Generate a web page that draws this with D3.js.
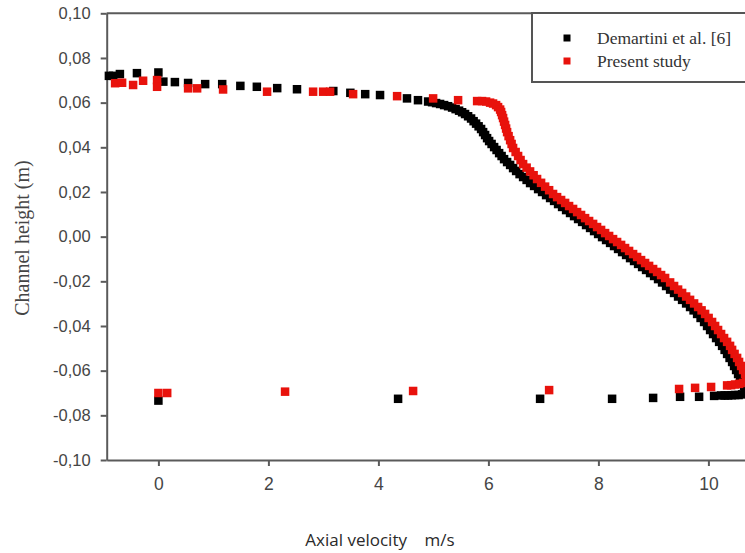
<!DOCTYPE html>
<html>
<head>
<meta charset="utf-8">
<script src="https://cdn.jsdelivr.net/npm/d3@7"></script>
<style>
  html, body { margin: 0; padding: 0; background: #fff; overflow: hidden; }
  svg { display: block; }
</style>
</head>
<body>
<svg id="chart" width="745" height="553"></svg>
<script>
// [axial velocity (m/s), channel height (m)] for each measured point
const demartini = [
  [-0.90, 0.0720], [-0.82, 0.0720], [-0.70, 0.0728], [-0.39, 0.0732], [0.00, 0.0735], [0.09, 0.0694],
  [0.30, 0.0692], [0.54, 0.0688], [0.85, 0.0683], [1.16, 0.0683], [1.49, 0.0675], [1.79, 0.0671],
  [2.16, 0.0665], [2.52, 0.0660], [3.18, 0.0652], [3.49, 0.0644], [3.76, 0.0638], [4.03, 0.0634],
  [4.52, 0.0619], [4.72, 0.0611],
  [4.904, 0.0605], [4.976, 0.0602], [5.049, 0.0598], [5.122, 0.0594], [5.195, 0.0589], [5.267, 0.0584],
  [5.340, 0.0578], [5.404, 0.0571], [5.467, 0.0564], [5.522, 0.0557], [5.576, 0.0549], [5.631, 0.0539],
  [5.685, 0.0529], [5.731, 0.0517], [5.776, 0.0506], [5.822, 0.0494], [5.867, 0.0482], [5.904, 0.0468],
  [5.940, 0.0455], [5.976, 0.0441], [6.013, 0.0428], [6.058, 0.0415], [6.104, 0.0401], [6.149, 0.0388],
  [6.195, 0.0374], [6.240, 0.0361], [6.285, 0.0347], [6.340, 0.0334], [6.395, 0.0321], [6.449, 0.0307],
  [6.504, 0.0294], [6.567, 0.0280], [6.631, 0.0267], [6.695, 0.0254], [6.758, 0.0240], [6.831, 0.0227],
  [6.904, 0.0213], [6.976, 0.0200], [7.049, 0.0186], [7.122, 0.0173], [7.195, 0.0160], [7.267, 0.0146],
  [7.340, 0.0133], [7.413, 0.0119], [7.485, 0.0106], [7.558, 0.0092], [7.631, 0.0079], [7.704, 0.0066],
  [7.776, 0.0052], [7.849, 0.0039], [7.922, 0.0025], [7.995, 0.0012], [8.067, -0.0002], [8.140, -0.0015],
  [8.213, -0.0028], [8.285, -0.0042], [8.358, -0.0055], [8.431, -0.0069], [8.504, -0.0082], [8.576, -0.0096],
  [8.649, -0.0109], [8.722, -0.0122], [8.795, -0.0136], [8.867, -0.0149], [8.940, -0.0163], [9.013, -0.0176],
  [9.085, -0.0190], [9.158, -0.0205], [9.231, -0.0221], [9.304, -0.0237], [9.376, -0.0252], [9.449, -0.0268],
  [9.522, -0.0283], [9.595, -0.0299], [9.667, -0.0315], [9.731, -0.0330], [9.795, -0.0346], [9.858, -0.0364],
  [9.922, -0.0382], [9.976, -0.0400], [10.031, -0.0418], [10.085, -0.0436], [10.140, -0.0454], [10.195, -0.0471],
  [10.249, -0.0489], [10.295, -0.0507], [10.340, -0.0525], [10.385, -0.0543], [10.431, -0.0561], [10.467, -0.0579],
  [10.504, -0.0597], [10.540, -0.0615], [10.576, -0.0632], [10.613, -0.0650], [10.649, -0.0668], [10.685, -0.0682],
  [10.722, -0.0695], [10.667, -0.0704], [10.613, -0.0706], [10.549, -0.0709], [10.485, -0.0709], [10.422, -0.0710],
  [10.358, -0.0711], [10.295, -0.0711], [10.231, -0.0711],
  [10.104, -0.0713], [9.831, -0.0717], [9.485, -0.0717], [8.995, -0.0722], [8.249, -0.0726], [6.940, -0.0726],
  [4.358, -0.0726], [0.00, -0.0734]
];

const present = [
  [-0.787, 0.0687], [-0.660, 0.0689], [-0.460, 0.0679], [-0.278, 0.0698], [-0.024, 0.0701], [-0.024, 0.0671],
  [0.540, 0.0664], [0.704, 0.0664], [1.176, 0.0659], [1.976, 0.0649], [2.813, 0.0649], [2.995, 0.0649],
  [3.122, 0.0649], [3.540, 0.0638], [4.340, 0.0629], [4.995, 0.0619], [5.449, 0.0611],
  [5.795, 0.0607], [5.885, 0.0607], [5.958, 0.0605], [6.031, 0.0600], [6.085, 0.0596], [6.140, 0.0589],
  [6.176, 0.0580], [6.213, 0.0569], [6.231, 0.0558], [6.249, 0.0544], [6.267, 0.0531], [6.285, 0.0515],
  [6.304, 0.0500], [6.322, 0.0484], [6.340, 0.0468], [6.367, 0.0450], [6.395, 0.0432], [6.422, 0.0415],
  [6.449, 0.0397], [6.495, 0.0379], [6.540, 0.0361], [6.585, 0.0343], [6.631, 0.0325], [6.695, 0.0309],
  [6.758, 0.0292], [6.822, 0.0275], [6.885, 0.0258], [6.958, 0.0241], [7.031, 0.0224], [7.104, 0.0208],
  [7.176, 0.0191], [7.249, 0.0177], [7.322, 0.0164], [7.395, 0.0151], [7.467, 0.0137], [7.540, 0.0124],
  [7.613, 0.0110], [7.685, 0.0097], [7.758, 0.0083], [7.831, 0.0070], [7.904, 0.0057], [7.976, 0.0043],
  [8.049, 0.0030], [8.122, 0.0016], [8.195, 0.0003], [8.267, -0.0011], [8.340, -0.0024], [8.413, -0.0037],
  [8.485, -0.0051], [8.558, -0.0064], [8.631, -0.0078], [8.704, -0.0091], [8.776, -0.0105], [8.849, -0.0118],
  [8.922, -0.0131], [8.995, -0.0145], [9.067, -0.0158], [9.140, -0.0172], [9.213, -0.0185], [9.304, -0.0205],
  [9.376, -0.0221], [9.449, -0.0237], [9.522, -0.0252], [9.595, -0.0268], [9.667, -0.0283], [9.740, -0.0299],
  [9.813, -0.0315], [9.876, -0.0330], [9.940, -0.0346], [10.004, -0.0364], [10.067, -0.0382], [10.122, -0.0400],
  [10.176, -0.0418], [10.231, -0.0436], [10.285, -0.0454], [10.340, -0.0471], [10.394, -0.0489], [10.431, -0.0507],
  [10.476, -0.0525], [10.522, -0.0543], [10.558, -0.0561], [10.595, -0.0579], [10.631, -0.0597], [10.667, -0.0615],
  [10.695, -0.0632], [10.685, -0.0648], [10.631, -0.0655], [10.558, -0.0659], [10.485, -0.0662], [10.413, -0.0665],
  [10.340, -0.0666],
  [10.049, -0.0673], [9.758, -0.0677], [9.467, -0.0682], [7.104, -0.0687], [4.631, -0.0691], [2.303, -0.0694],
  [0.160, -0.0700], [0.000, -0.0700]
];

const seriesNames = ["Demartini et al. [6]", "Present study"];
const seriesColors = ["#000000", "#e8120c"];
const xTickValues = [0, 2, 4, 6, 8, 10];
const yTickValues = [-0.10, -0.08, -0.06, -0.04, -0.02, 0.00, 0.02, 0.04, 0.06, 0.08, 0.10];
const xTitle = "Axial velocity    m/s";
const yTitle = "Channel height (m)";

const svg = d3.select("#chart");

const x = d3.scaleLinear().domain([-0.94, 11]).range([106.7, 763.4]);
const y = d3.scaleLinear().domain([-0.10, 0.10]).range([460, 13.3]);

const locale = d3.formatLocale({ decimal: ",", thousands: ".", grouping: [3], currency: ["", ""], minus: "-" });
const yFmt = locale.format(".2f");

const axisColor = "#5a5a5a";
const labelColor = "#454545";

// top frame line
svg.append("line")
  .attr("x1", x.range()[0]).attr("x2", x.range()[1])
  .attr("y1", y(0.10)).attr("y2", y(0.10))
  .attr("stroke", axisColor).attr("stroke-width", 2);

// y axis
const gy = svg.append("g")
  .attr("transform", `translate(${x.range()[0]},0)`)
  .call(d3.axisLeft(y).tickValues(yTickValues).tickFormat(yFmt).tickSize(6).tickSizeOuter(0).tickPadding(10));
gy.select(".domain").attr("stroke", axisColor).attr("stroke-width", 2);
gy.selectAll(".tick line").attr("stroke", axisColor).attr("stroke-width", 2);
gy.selectAll(".tick text")
  .attr("fill", labelColor)
  .style("font-family", "'Liberation Sans', Arial, sans-serif")
  .style("font-size", "16.5px");

// x axis
const gx = svg.append("g")
  .attr("transform", `translate(0,${y.range()[0]})`)
  .call(d3.axisBottom(x).tickValues(xTickValues).tickFormat(d3.format("d")).tickSize(6).tickSizeOuter(0).tickPadding(12));
gx.select(".domain").attr("stroke", axisColor).attr("stroke-width", 2);
gx.selectAll(".tick line").attr("stroke", axisColor).attr("stroke-width", 2);
gx.selectAll(".tick text")
  .attr("fill", labelColor)
  .style("font-family", "'Liberation Sans', Arial, sans-serif")
  .style("font-size", "17.5px");

// axis titles
svg.append("text")
  .attr("x", 380).attr("y", 546)
  .attr("text-anchor", "middle")
  .attr("fill", "#2a2a2a")
  .style("font-family", "'Open Sans', Lato, sans-serif")
  .style("font-size", "17px")
  .style("white-space", "pre")
  .text(xTitle);

svg.append("text")
  .attr("transform", "translate(29,238) rotate(-90)")
  .attr("text-anchor", "middle")
  .attr("fill", labelColor)
  .style("font-family", "'Liberation Serif', 'Times New Roman', serif")
  .style("font-size", "20px")
  .text(yTitle);

// square markers, reference series first so the present study sits on top
const series = [
  { pts: demartini, color: seriesColors[0] },
  { pts: present, color: seriesColors[1] }
];
const size = 8.5;
series.forEach(s => {
  svg.append("g").selectAll("rect").data(s.pts).join("rect")
    .attr("x", d => x(d[0]) - size / 2)
    .attr("y", d => y(d[1]) - size / 2)
    .attr("width", size).attr("height", size)
    .attr("fill", s.color);
});

// legend
const lg = svg.append("g");
lg.append("rect")
  .attr("x", 532).attr("y", 13).attr("width", 260).attr("height", 69)
  .attr("fill", "#fff").attr("stroke", "#555").attr("stroke-width", 2);
seriesNames.forEach((name, i) => {
  const cy = 38 + i * 23;
  lg.append("rect")
    .attr("x", 567 - 3.5).attr("y", cy - 3.5).attr("width", 7).attr("height", 7)
    .attr("fill", seriesColors[i]);
  lg.append("text")
    .attr("x", 597).attr("y", cy + 6)
    .attr("fill", "#333")
    .style("font-family", "'Liberation Serif', 'Times New Roman', serif")
    .style("font-size", "17.5px")
    .text(name);
});
</script>
</body>
</html>
